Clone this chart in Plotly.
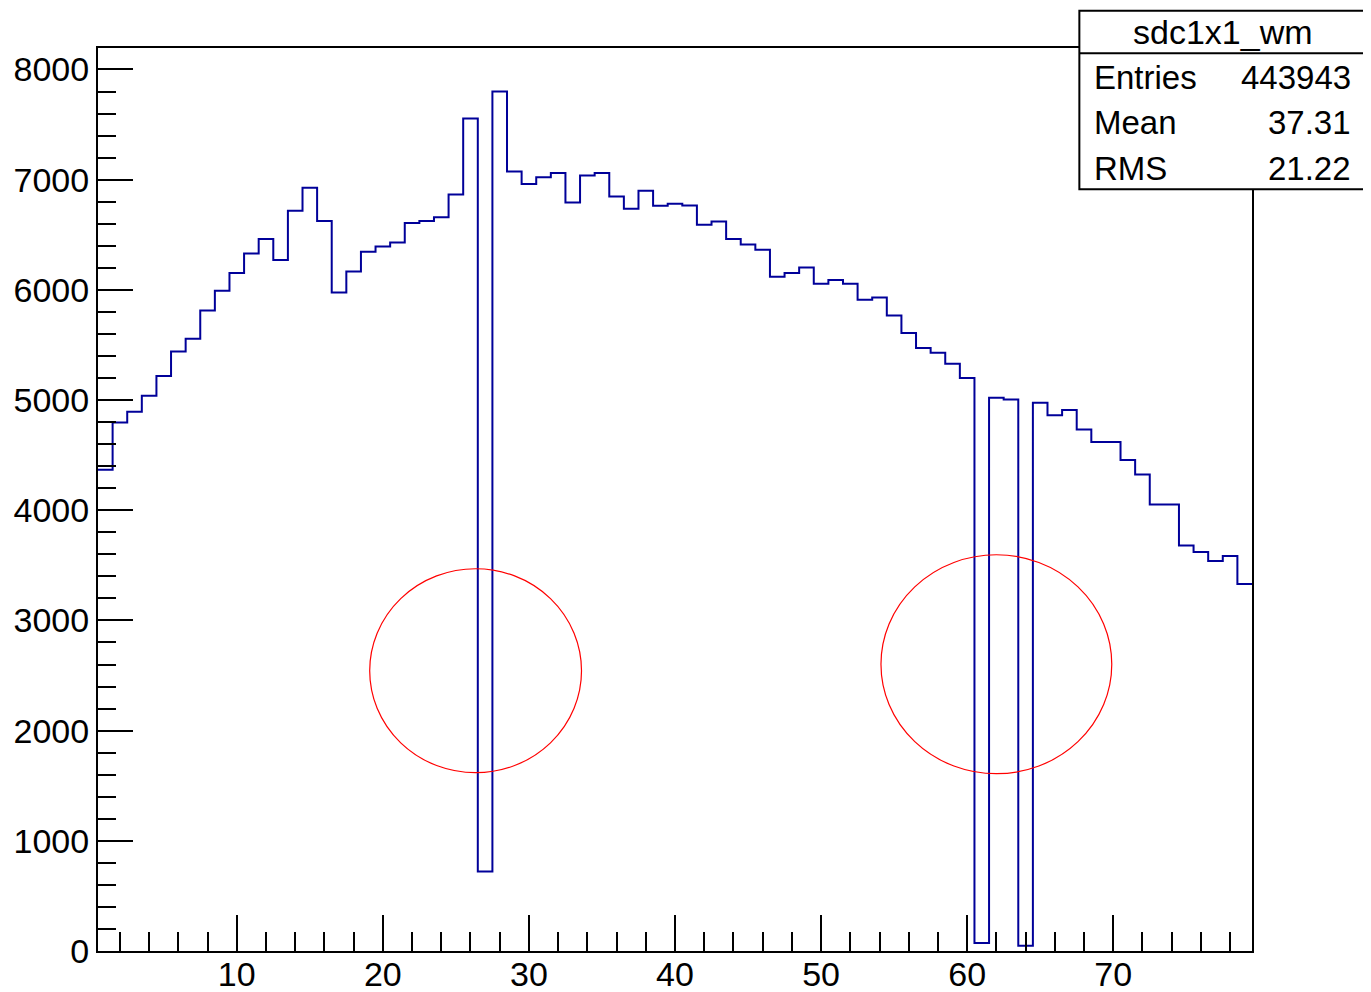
import numpy as np
import plotly.graph_objects as go

# ---- data ----
bin_centers = list(range(1, 80))
counts = [
    4368, 4797, 4894, 5039, 5218, 5441, 5556, 5813, 5992, 6152,
    6331, 6461, 6270, 6718, 6926, 6624, 5977, 6167, 6346, 6394,
    6430, 6606, 6624, 6660, 6866, 7555, 722, 7800, 7074, 6960,
    7023, 7060, 6793, 7038, 7060, 6848, 6736, 6899, 6763, 6781,
    6766, 6591, 6621, 6461, 6412, 6364, 6119, 6152, 6204, 6055,
    6089, 6055, 5910, 5931, 5768, 5608, 5472, 5429, 5329, 5200,
    72, 5021, 5006, 48, 4976, 4861, 4910, 4733, 4619, 4619,
    4455, 4325, 4053, 4053, 3681, 3621, 3539, 3584, 3330,
]
hist_name = "sdc1x1_wm"
stat_labels = ["Entries", "Mean", "RMS"]
stat_values = ["443943", "37.31", "21.22"]

# red hand-drawn ellipses (data coordinates)
ellipse_x0 = [19.1, 54.1]
ellipse_x1 = [33.6, 69.9]
ellipse_y0 = [1618, 1609]
ellipse_y1 = [3469, 3596]

bin_width = 1.0
x_range = [0.5, 79.5]
y_range = [0, 8195]

# ---- build step outline ----
centers = np.array(bin_centers, dtype=float)
edges = np.append(centers - bin_width / 2, centers[-1] + bin_width / 2)
ys = list(counts) + [counts[-1]]

FONT = "Liberation Sans, Arial, Helvetica, sans-serif"

fig = go.Figure()
fig.add_trace(go.Scatter(
    x=edges, y=ys, mode="lines", line_shape="hv",
    line=dict(color="#000099", width=2), showlegend=False, hoverinfo="skip",
))

axis_common = dict(
    showline=True, linecolor="black", linewidth=2, mirror=True,
    ticks="inside", tickcolor="black", tickwidth=2,
    showgrid=False, zeroline=False, automargin=False,
    tickfont=dict(family=FONT, size=34, color="black"),
)

fig.update_xaxes(
    range=x_range, tick0=0, dtick=10, ticklen=36, ticklabelstandoff=-8,
    minor=dict(dtick=2, ticks="inside", ticklen=19, tickcolor="black", tickwidth=2, showgrid=False),
    **axis_common,
)
fig.update_yaxes(
    range=y_range, tick0=0, dtick=1000, ticklen=35, tickformat="d",
    minor=dict(dtick=200, ticks="inside", ticklen=18, tickcolor="black", tickwidth=2, showgrid=False),
    **axis_common,
)

shapes = []
for x0, x1, y0, y1 in zip(ellipse_x0, ellipse_x1, ellipse_y0, ellipse_y1):
    shapes.append(dict(type="circle", xref="x", yref="y", x0=x0, x1=x1, y0=y0, y1=y1,
                       line=dict(color="red", width=1.2), layer="above"))

# stats box (paper coordinates of the plot area)
box_l, box_r, box_t, box_sep, box_b = 0.8504, 1.0997, 1.0413, 0.9941, 0.8435
shapes.append(dict(type="rect", xref="paper", yref="paper", x0=box_l, x1=box_r, y0=box_b, y1=box_t,
                   fillcolor="white", line=dict(color="black", width=2), layer="above"))
shapes.append(dict(type="line", xref="paper", yref="paper", x0=box_l, x1=box_r, y0=box_sep, y1=box_sep,
                   line=dict(color="black", width=2), layer="above"))

annotations = [dict(text=hist_name, xref="paper", yref="paper", x=(box_l + box_r) / 2, y=1.0177,
                    xanchor="center", yanchor="middle", showarrow=False,
                    font=dict(family=FONT, size=34, color="black"))]
row_y = [0.9668, 0.918, 0.867]
for lab, val, yy in zip(stat_labels, stat_values, row_y):
    annotations.append(dict(text=lab, xref="paper", yref="paper", x=0.8614, y=yy,
                            xanchor="left", yanchor="middle", showarrow=False,
                            font=dict(family=FONT, size=33, color="black")))
    annotations.append(dict(text=val, xref="paper", yref="paper", x=1.0875, y=yy,
                            xanchor="right", yanchor="middle", showarrow=False,
                            font=dict(family=FONT, size=33, color="black")))

# page body adds an 8px offset; margins compensate so the frame lands where the reference has it
fig.update_layout(
    width=1371, height=992, autosize=False,
    margin=dict(l=90, r=127, t=40, b=49, pad=0),
    paper_bgcolor="white", plot_bgcolor="white",
    shapes=shapes, annotations=annotations,
    showlegend=False,
)

fig.write_html("out.html")
